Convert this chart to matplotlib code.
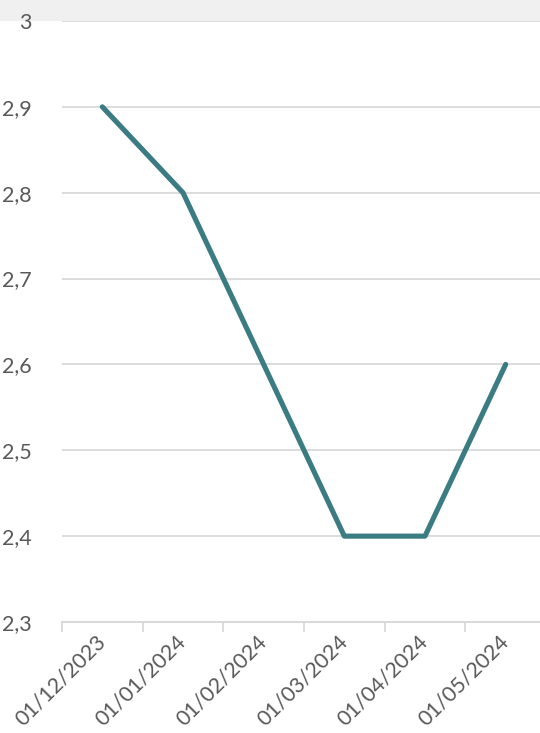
import matplotlib.pyplot as plt
from matplotlib.patches import Rectangle
from matplotlib.ticker import FuncFormatter

dates = ["01/12/2023", "01/01/2024", "01/02/2024", "01/03/2024", "01/04/2024", "01/05/2024"]
values = [2.9, 2.8, 2.6, 2.4, 2.4, 2.6]
y_ticks = [2.3, 2.4, 2.5, 2.6, 2.7, 2.8, 2.9, 3.0]

LINE = "#3b7b82"
GRID = "#d9d9d9"
TEXT = "#595959"

plt.rcParams['font.family'] = ['Lato', 'DejaVu Sans']

fig = plt.figure(figsize=(5.4, 7.33), dpi=100)
# light grey strip across the top
fig.patches.append(Rectangle((0, 712 / 733), 1, 1 - 712 / 733, transform=fig.transFigure,
                             facecolor="#f0f0f0", edgecolor="none", zorder=-1))

ax = fig.add_axes([62 / 540, 111 / 733, 484 / 540, 601 / 733])
ax.patch.set_alpha(0)

x = list(range(len(dates)))
ax.plot(x, values, color=LINE, linewidth=3.7, solid_capstyle="round", solid_joinstyle="round", zorder=3)

ax.set_xlim(-0.5, len(dates) - 0.5)
ax.set_ylim(2.3, 3.0)
ax.set_yticks(y_ticks)
ax.yaxis.set_major_formatter(FuncFormatter(lambda v, p: f"{v:g}".replace(".", ",")))
ax.grid(axis="y", color=GRID, linewidth=1.3, zorder=0)
ax.tick_params(axis="y", length=0, pad=22, labelsize=15.5, labelcolor=TEXT)

ax.set_xticks(x)
ax.set_xticklabels(dates, rotation=45, ha="right", va="center", rotation_mode="anchor",
                   fontsize=15.5, color=TEXT)
ax.tick_params(axis="x", which="major", length=0, pad=12)
ax.set_xticks([i - 0.5 for i in range(len(dates) + 1)], minor=True)
ax.tick_params(axis="x", which="minor", length=7, width=1.3, color=GRID)

for s in ["top", "right", "left"]:
    ax.spines[s].set_visible(False)
ax.spines["bottom"].set_color(GRID)
ax.spines["bottom"].set_linewidth(1.5)

fig.savefig("out.png", dpi=100)
